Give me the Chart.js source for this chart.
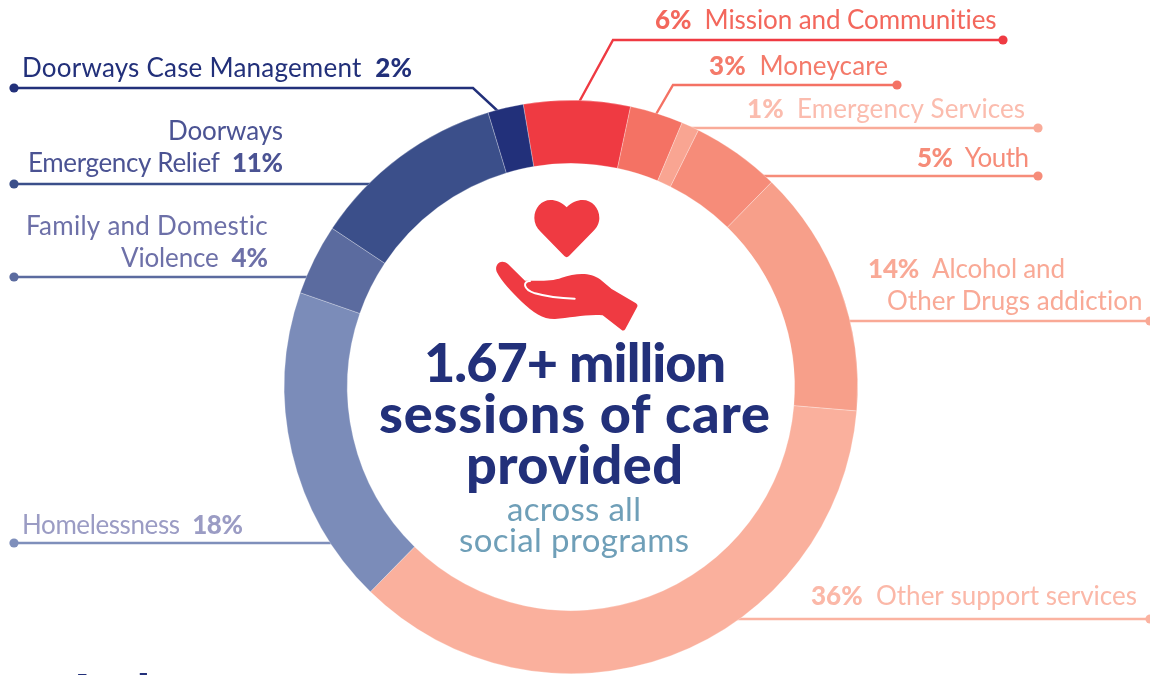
<!DOCTYPE html>
<html lang="en">
<head>
<meta charset="utf-8">
<title>Sessions of care by program</title>
<script src="https://cdn.jsdelivr.net/npm/chart.js@4"></script>
<style>
  html, body { margin: 0; padding: 0; background: #fff; overflow: hidden; }
  canvas { display: block; }
</style>
</head>
<body>
<canvas id="chart" width="1150" height="675"></canvas>
<script>
// Program shares of all sessions of care, clockwise from the top of the ring.
const categories = ['Mission and Communities', 'Moneycare', 'Emergency Services', 'Youth',
  'Alcohol and Other Drugs addiction', 'Other support services', 'Homelessness',
  'Family and Domestic Violence', 'Doorways Emergency Relief', 'Doorways Case Management'];
const shares = [6, 3, 1, 5, 14, 36, 18, 4, 11, 2];
const ringColors = ['#ef3a42', '#f47264', '#f9a592', '#f68c79', '#f79f8a', '#fab09d',
  '#7b8cb9', '#5b6b9f', '#3b4f8a', '#22307a'];
const lineColors = ['#ef3a42', '#f47264', '#f9ab99', '#f68c79', '#f9a996', '#fbb3a1',
  '#7f8fbb', '#5b6b9f', '#3b4f8a', '#22307a'];
const textColors = ['#f3675c', '#f47a6a', '#fbbcae', '#f68c79', '#f9a996', '#fbb8a8',
  '#9b9cc4', '#6d70a8', '#4b5393', '#22307a'];

const NAVY = '#22307a';
const SUBTLE = '#6f9fb8';
const FAMILY = 'Lato, "Noto Sans", sans-serif';

// Callout geometry per slice: leader polyline, end dot, and the text lines with their extents.
const callouts = [
  { path: [[578, 104], [613, 40], [1003, 40]], dot: [1003, 40],
    lines: [{ pct: 'first', text: 'Mission and Communities', l: 655, r: 997, y: 29 }] },
  { path: [[655, 116], [673, 85], [897, 85]], dot: [897, 85],
    lines: [{ pct: 'first', text: 'Moneycare', l: 709, r: 888, y: 75 }] },
  { path: [[690, 128], [1038, 128]], dot: [1038, 128],
    lines: [{ pct: 'first', text: 'Emergency Services', l: 747, r: 1025, y: 118 }] },
  { path: [[760, 176], [1038, 176]], dot: [1038, 176],
    lines: [{ pct: 'first', text: 'Youth', l: 917, r: 1029, y: 167 }] },
  { path: [[845, 321], [1150, 321]], dot: [1150, 321],
    lines: [{ pct: 'first', text: 'Alcohol and', l: 868, r: 1065, y: 278 },
            { text: 'Other Drugs addiction', l: 887, r: 1143, y: 310 }] },
  { path: [[735, 619], [1150, 619]], dot: [1150, 619],
    lines: [{ pct: 'first', text: 'Other support services', l: 811, r: 1137, y: 605 }] },
  { path: [[14, 543], [335, 543]], dot: [14, 543],
    lines: [{ pct: 'last', text: 'Homelessness', l: 22, r: 243, y: 534 }] },
  { path: [[14, 277], [308, 277]], dot: [14, 277],
    lines: [{ text: 'Family and Domestic', l: 26, r: 268, y: 235 },
            { pct: 'last', text: 'Violence', l: 121, r: 268, y: 267 }] },
  { path: [[14, 184], [370, 184]], dot: [14, 184],
    lines: [{ text: 'Doorways', l: 168, r: 283, y: 140 },
            { pct: 'last', text: 'Emergency Relief', l: 28, r: 283, y: 172 }] },
  { path: [[14, 88], [473, 88], [501, 114]], dot: [14, 88],
    lines: [{ pct: 'last', text: 'Doorways Case Management', l: 22, r: 412, y: 77 }] }
];

// Headline and sub-headline inside the ring.
const headline = [
  { text: '1.67+ million', l: 424, r: 726, y: 382 },
  { text: 'sessions of care', l: 379, r: 770, y: 433 },
  { text: 'provided', l: 466, r: 683, y: 484 }
];
const subline = [
  { text: 'across all', l: 507, r: 641, y: 521 },
  { text: 'social programs', l: 459, r: 689, y: 552 }
];
// Next section's heading, which starts at the lower page edge.
const nextHeading = [
  { text: 'And', l: 64, r: 150, y: 711 },
  { text: '1.7', l: 168, r: 212, y: 712 },
  { text: 'million', l: 222, r: 372, y: 713 }
];

// Draws runs of [text, font] between two x extents, spacing letters to fill the width.
function fitRuns(ctx, runs, left, right, y) {
  let natural = 0, count = 0;
  ctx.letterSpacing = '0px';
  runs.forEach(([t, f]) => { ctx.font = f; natural += ctx.measureText(t).width; count += t.length; });
  const extra = (right - left - natural) / Math.max(count - 1, 1);
  ctx.letterSpacing = extra.toFixed(3) + 'px';
  let x = left;
  runs.forEach(([t, f]) => {
    ctx.font = f;
    ctx.fillText(t, x, y);
    x += ctx.measureText(t).width;
  });
  ctx.letterSpacing = '0px';
}

// Heart above an open hand, drawn in a local 3x grid.
function drawIcon(ctx) {
  ctx.save();
  ctx.translate(480, 190);
  ctx.scale(1 / 3, 1 / 3);
  ctx.fillStyle = '#ef3a42';
  ctx.beginPath();
  ctx.moveTo(260, 52);
  ctx.bezierCurveTo(245, 37, 228, 30, 212, 30);
  ctx.bezierCurveTo(184, 30, 163, 54, 163, 84);
  ctx.bezierCurveTo(163, 100, 170, 114, 182, 125);
  ctx.lineTo(253, 198);
  ctx.quadraticCurveTo(260, 205, 267, 198);
  ctx.lineTo(338, 125);
  ctx.bezierCurveTo(350, 114, 358, 100, 358, 84);
  ctx.bezierCurveTo(358, 54, 336, 30, 308, 30);
  ctx.bezierCurveTo(292, 30, 275, 37, 260, 52);
  ctx.closePath();
  ctx.fill();

  ctx.beginPath();
  ctx.moveTo(50, 245);
  ctx.bezierCurveTo(42, 222, 64, 205, 84, 222);
  ctx.lineTo(135, 272);
  ctx.bezierCurveTo(170, 272, 215, 275, 245, 263);
  ctx.bezierCurveTo(285, 250, 330, 245, 360, 268);
  ctx.lineTo(395, 297);
  ctx.lineTo(468, 340);
  ctx.quadraticCurveTo(475, 345, 471, 352);
  ctx.lineTo(436, 417);
  ctx.quadraticCurveTo(431, 425, 424, 419);
  ctx.lineTo(368, 376);
  ctx.bezierCurveTo(320, 372, 270, 384, 225, 387);
  ctx.bezierCurveTo(190, 388, 160, 368, 125, 335);
  ctx.bezierCurveTo(95, 305, 65, 275, 50, 245);
  ctx.closePath();
  ctx.fill();

  ctx.strokeStyle = '#ffffff';
  ctx.lineWidth = 6;
  ctx.lineCap = 'round';
  ctx.beginPath();
  ctx.moveTo(150, 273);
  ctx.bezierCurveTo(128, 274, 128, 298, 165, 310);
  ctx.bezierCurveTo(200, 320, 250, 325, 284, 326);
  ctx.stroke();
  ctx.restore();
}

// Leader lines go beneath the ring so it covers their inner ends.
const calloutsPlugin = {
  id: 'callouts',
  beforeDatasetsDraw(chart) {
    const ctx = chart.ctx;
    ctx.save();
    callouts.forEach((c, i) => {
      ctx.strokeStyle = lineColors[i];
      ctx.fillStyle = lineColors[i];
      ctx.lineWidth = 2.4;
      ctx.lineJoin = 'miter';
      ctx.beginPath();
      c.path.forEach(([x, y], k) => (k ? ctx.lineTo(x, y) : ctx.moveTo(x, y)));
      ctx.stroke();
      ctx.beginPath();
      ctx.arc(c.dot[0], c.dot[1], 4.6, 0, Math.PI * 2);
      ctx.fill();
    });
    ctx.restore();
  },
  afterDatasetsDraw(chart) {
    const ctx = chart.ctx;
    const bold = '900 26px ' + FAMILY;
    const regular = '400 26px ' + FAMILY;
    ctx.save();
    ctx.textBaseline = 'alphabetic';
    ctx.textAlign = 'left';
    callouts.forEach((c, i) => {
      ctx.fillStyle = textColors[i];
      c.lines.forEach(line => {
        const pct = shares[i] + '%';
        const runs = line.pct === 'first' ? [[pct, bold], ['  ', regular], [line.text, regular]]
          : line.pct === 'last' ? [[line.text, regular], ['  ', regular], [pct, bold]]
          : [[line.text, regular]];
        fitRuns(ctx, runs, line.l, line.r, line.y);
      });
    });

    ctx.fillStyle = NAVY;
    headline.forEach(h => fitRuns(ctx, [[h.text, '900 54px ' + FAMILY]], h.l, h.r, h.y));
    nextHeading.forEach(h => fitRuns(ctx, [[h.text, '900 52px ' + FAMILY]], h.l, h.r, h.y));
    ctx.fillStyle = SUBTLE;
    subline.forEach(h => fitRuns(ctx, [[h.text, '400 33px ' + FAMILY]], h.l, h.r, h.y));

    drawIcon(ctx);
    ctx.restore();
  }
};

new Chart(document.getElementById('chart'), {
  type: 'doughnut',
  data: {
    labels: categories,
    datasets: [{
      data: shares,
      backgroundColor: ringColors,
      borderColor: 'rgba(255,255,255,0.45)',
      borderWidth: 0.6,
      hoverOffset: 0
    }]
  },
  options: {
    responsive: false,
    animation: false,
    rotation: -9.6,
    cutout: '78%',
    layout: { padding: { left: 284, right: 292, top: 100, bottom: 1 } },
    plugins: { legend: { display: false }, tooltip: { enabled: false } }
  },
  plugins: [calloutsPlugin]
});
</script>
</body>
</html>
